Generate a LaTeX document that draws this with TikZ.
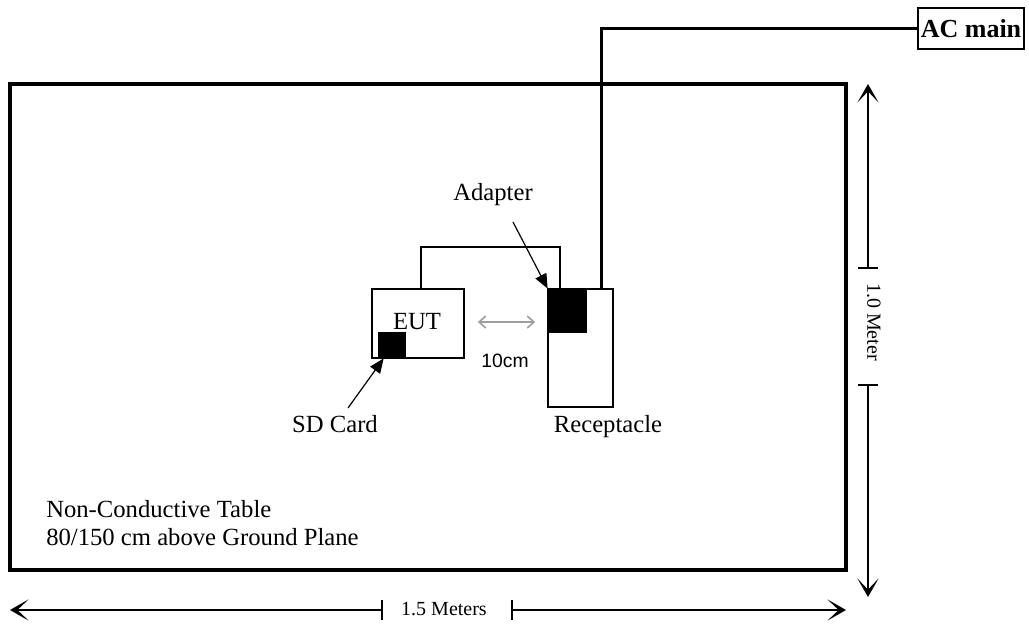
\documentclass[tikz,border=0pt]{standalone}
\usepackage{fontspec}
\setmainfont{Liberation Serif}
\newfontfamily\arialfont{Liberation Sans}
\usetikzlibrary{arrows.meta,calc}
\begin{document}
\begin{tikzpicture}[x=0.75pt,y=-0.75pt,
  lbl/.style={font=\fontsize{18.5}{22}\selectfont, inner sep=0pt},
  dimlbl/.style={font=\fontsize{15}{18}\selectfont, inner sep=0pt},
  box/.style={draw, line width=1.3pt, inner sep=0pt},
  blk/.style={fill=black, draw=black, line width=0.5pt, inner sep=0pt},
  dimline/.style={line width=1.1pt},
  dimarrow/.style={line width=1.1pt, -{Stealth[length=14pt,width=16pt,inset=8.5pt]}},
  ptr/.style={line width=0.9pt, -{Triangle[length=11pt,width=9pt]}},
  gap/.style={draw=black!38, line width=1.2pt, {Straight Barb[length=5pt,width=9pt]}-{Straight Barb[length=5pt,width=9pt]}},
]
\useasboundingbox (0,0) rectangle (1029,628);

% table
\node[draw, line width=2.3pt, minimum width=627pt, minimum height=364.5pt, inner sep=0pt] (table) at (428,327) {};

% AC main
\node[box, line width=1.1pt, minimum width=79.5pt, minimum height=30.75pt, font=\fontsize{19.5}{22}\selectfont\bfseries] (ac) at (971,28.5) {AC main};

% EUT and SD card
\node[box, minimum width=69pt, minimum height=51.75pt] (eut) at (418,323.5) {};
\node[lbl, anchor=base] (eutl) at (417,329) {EUT};
\node[blk, minimum width=20.25pt, minimum height=19.5pt] (sd) at (391.5,345) {};

% Receptacle and adapter
\node[box, minimum width=48.75pt, minimum height=88.5pt] (rec) at (580.5,348) {};
\node[blk, minimum width=28.5pt, minimum height=32.25pt] (adp) at (567,310.5) {};

% power line
\draw[line width=2.3pt] (ac.west) -| ([xshift=15.4pt]rec.north);

% cable EUT -> adapter
\draw[line width=1.1pt] ([xshift=2.25pt]eut.north) -- ++(0,-41) -| ([xshift=-15.4pt]rec.north);

% 10cm gap
\draw[gap] ($(eut.east)+(13,-1.5)$) -- ($(rec.west)+(-12,-26)$);
\node[inner sep=0pt, anchor=base, font=\arialfont\fontsize{14.5}{17}\selectfont] (cm) at (505,367) {10cm};

% labels and pointers
\node[lbl] (adl) at (493,195) {Adapter};
\coordinate (adtail) at (513,222);
\draw[ptr] (adtail) -- (adp.north west);

\node[lbl, anchor=base] (sdl) at (335,432) {SD Card};
\coordinate (sdtail) at (348,408);
\draw[ptr] (sdtail) -- ([xshift=4.5pt]sd.south west);

\node[lbl, anchor=base] (recl) at (608,432) {Receptacle};

\node[lbl, anchor=base west] (t1) at (46,517) {Non-Conductive Table};
\node[lbl, anchor=base west] (t2) at (46,545) {80/150 cm above Ground Plane};

% vertical dimension
\coordinate (vtop) at (868,84);
\coordinate (vbot) at (868,597);
\coordinate (vt1) at (868,268);
\coordinate (vt2) at (868,385);
\draw[dimarrow] (vt1) -- (vtop);
\draw[dimarrow] (vt2) -- (vbot);
\draw[dimline] ($(vt1)+(-10,0)$) -- ($(vt1)+(10,0)$);
\draw[dimline] ($(vt2)+(-10,0)$) -- ($(vt2)+(10,0)$);
\node[dimlbl, rotate=-90] (vl) at (874,322) {1.0 Meter};

% horizontal dimension
\coordinate (hl) at (10,610);
\coordinate (hr) at (846,610);
\coordinate (ht1) at (382,610);
\coordinate (ht2) at (512,610);
\draw[dimarrow] (ht1) -- (hl);
\draw[dimarrow] (ht2) -- (hr);
\draw[dimline] ($(ht1)+(0,-10)$) -- ($(ht1)+(0,10)$);
\draw[dimline] ($(ht2)+(0,-10)$) -- ($(ht2)+(0,10)$);
\node[dimlbl] (hlab) at (444,609) {1.5 Meters};
\end{tikzpicture}
\end{document}
